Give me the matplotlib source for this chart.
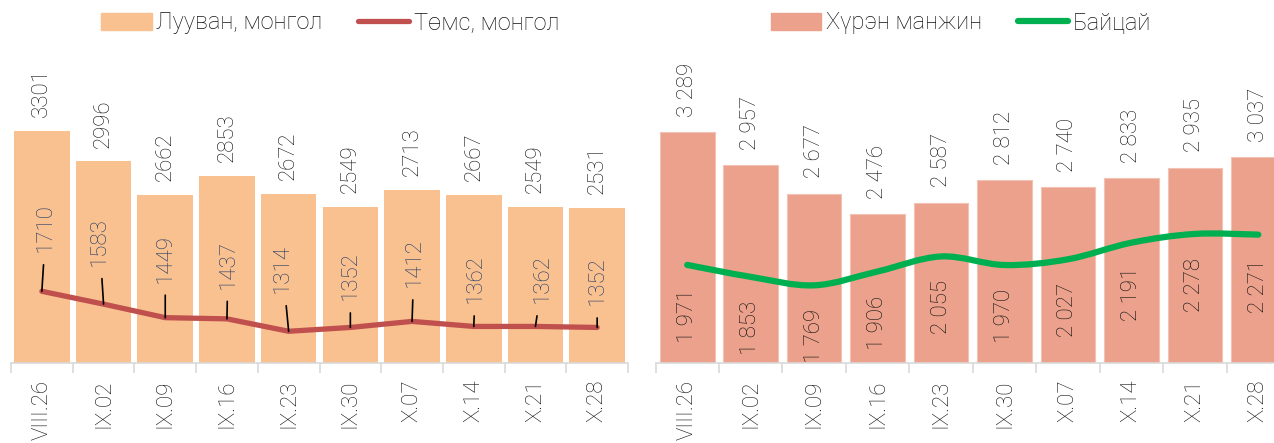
import numpy as np
import matplotlib.pyplot as plt
from matplotlib.path import Path
from matplotlib.patches import PathPatch, Patch
from matplotlib.lines import Line2D

plt.rcParams['font.family'] = ['Roboto', 'DejaVu Sans']
plt.rcParams['font.weight'] = 'light'

# өгөгдөл
dates = ['VIII.26', 'IX.02', 'IX.09', 'IX.16', 'IX.23', 'IX.30', 'X.07', 'X.14', 'X.21', 'X.28']
luuvan = [3301, 2996, 2662, 2853, 2672, 2549, 2713, 2667, 2549, 2531]
tums = [1710, 1583, 1449, 1437, 1314, 1352, 1412, 1362, 1362, 1352]
manjin = [3289, 2957, 2677, 2476, 2587, 2812, 2740, 2833, 2935, 3037]
baitsai = [1971, 1853, 1769, 1906, 2055, 1970, 2027, 2191, 2278, 2271]

# төмсний шошгын байрлал (пиксел)
tums_off = [(4, 39), (-4, 38), (0, 35), (1, 30), (-6, 38), (0, 27), (2, 34), (2, 23), (7, 23), (0, 22)]

FS_VAL = 16
FS_TICK = 16
FS_LEG = 17
TXT = '#111111'
x = np.arange(len(dates))

fig = plt.figure(figsize=(12.74, 4.43), dpi=100)
ax1 = fig.add_axes([11 / 1274, 80 / 443, 617 / 1274, 303 / 443])
ax2 = fig.add_axes([655.5 / 1274, 80 / 443, 634.5 / 1274, 303 / 443])


def style_axis(ax):
    ax.set_ylim(1000, 4000)
    ax.set_xlim(-0.5, len(dates) - 0.5)
    for s in ['top', 'right', 'left']:
        ax.spines[s].set_visible(False)
    ax.spines['bottom'].set_color('#D9D9D9')
    ax.spines['bottom'].set_linewidth(1.2)
    ax.set_yticks([])
    ax.set_xticks(x)
    ax.set_xticklabels(dates, rotation=90, fontsize=FS_TICK, color=TXT)
    ax.tick_params(axis='x', which='major', length=0, pad=12)
    ax.set_xticks(np.arange(len(dates) + 1) - 0.5, minor=True)
    ax.tick_params(axis='x', which='minor', length=7, width=1.2, color='#D9D9D9')
    ax.patch.set_alpha(0)


# зүүн график
style_axis(ax1)
b1 = ax1.bar(x, luuvan, width=0.9, color='#F9C18F', zorder=1)
ax1.bar_label(b1, labels=[str(v) for v in luuvan], rotation=90, padding=10,
              fontsize=FS_VAL, color=TXT)
ax1.plot(x, tums, color='#C0504D', lw=3.8, solid_capstyle='round', zorder=3)
for i, v in enumerate(tums):
    dx, dy = tums_off[i]
    ax1.annotate(str(v), xy=(x[i], v), xytext=(dx, dy), textcoords='offset pixels',
                 rotation=90, ha='center', va='bottom', fontsize=FS_VAL, color='#1F3864',
                 arrowprops=dict(arrowstyle='-', color='black', lw=1.2, shrinkA=7, shrinkB=0),
                 zorder=4)

# баруун график
style_axis(ax2)
b2 = ax2.bar(x, manjin, width=0.86, color='#EBA18B', edgecolor='#F2C2B4', lw=0.8, zorder=1)
ax2.bar_label(b2, labels=[f'{v:,}'.replace(',', ' ') for v in manjin], rotation=90,
              padding=11, fontsize=FS_VAL, color=TXT)

# Байцайн гөлгөр шугам (Безье муруй)
px = list(x)
py = list(baitsai)
verts = [(px[0], py[0])]
codes = [Path.MOVETO]
n = len(px)
for i in range(n - 1):
    p0 = (px[max(i - 1, 0)], py[max(i - 1, 0)])
    p1 = (px[i], py[i])
    p2 = (px[i + 1], py[i + 1])
    p3 = (px[min(i + 2, n - 1)], py[min(i + 2, n - 1)])
    c1 = (p1[0] + (p2[0] - p0[0]) / 6, p1[1] + (p2[1] - p0[1]) / 6)
    c2 = (p2[0] - (p3[0] - p1[0]) / 6, p2[1] - (p3[1] - p1[1]) / 6)
    verts += [c1, c2, p2]
    codes += [Path.CURVE4] * 3
ax2.add_patch(PathPatch(Path(verts, codes), fill=False, edgecolor='#00B050', lw=4.5,
                        capstyle='round', zorder=3))
for i, v in enumerate(baitsai):
    ax2.annotate(f'{v:,}'.replace(',', ' '), xy=(x[i], v), xytext=(0, -24),
                 textcoords='offset pixels', rotation=90, ha='center', va='top',
                 fontsize=FS_VAL, color=TXT, zorder=4)

# тайлбар
h1 = [Patch(color='#F9C18F'), Line2D([], [], color='#C0504D', lw=3.8, solid_capstyle='round')]
fig.legend(h1, ['Лууван, монгол', 'Төмс, монгол'], loc='center', bbox_to_anchor=(330 / 1274, 1 - 23 / 443),
           ncol=2, frameon=False, fontsize=FS_LEG, handlelength=2.15, handletextpad=0.2,
           columnspacing=1.5, labelcolor=TXT)
h2 = [Patch(color='#EBA18B'), Line2D([], [], color='#00B050', lw=4.5, solid_capstyle='round')]
fig.legend(h2, ['Хүрэн манжин', 'Байцай'], loc='center', bbox_to_anchor=(961 / 1274, 1 - 23 / 443),
           ncol=2, frameon=False, fontsize=FS_LEG, handlelength=2.15, handletextpad=0.2,
           columnspacing=1.5, labelcolor=TXT)

fig.savefig('out.png', dpi=100)
